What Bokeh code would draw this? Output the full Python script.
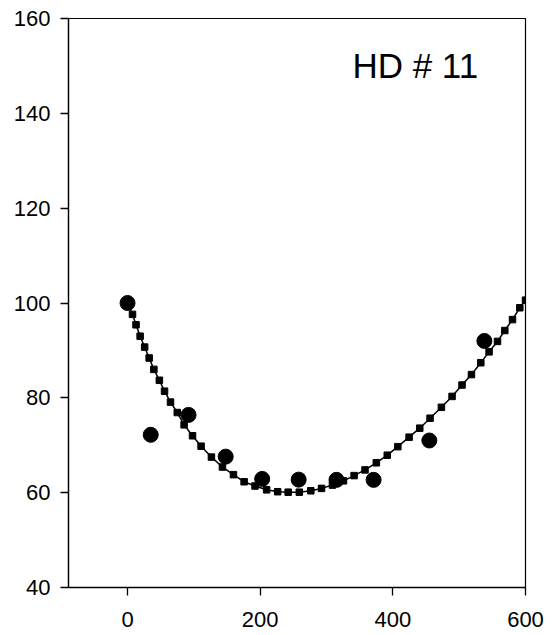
from bokeh.plotting import figure
from bokeh.models import Range1d, FixedTicker, Label, ColumnDataSource
from bokeh.embed import file_html
from bokeh.resources import INLINE

# Measured data (circles)
obs_x = [0, 35, 92, 148, 203, 258, 315, 371, 455, 538]
obs_y = [100.0, 72.2, 76.4, 67.6, 62.9, 62.75, 62.7, 62.7, 71.0, 92.0]

# Fitted curve (squares on line)
fit_x = [0, 7.5, 12.8, 19.0, 25.8, 32.6, 39.7, 48.0, 55.8, 64.8, 75.0, 85.3, 98.0,
         110.9, 126.5, 143.1, 159.7, 175.8, 192.2, 209.7, 226.3, 242.2, 259.0,
         276.3, 292.5, 309.0, 325.6, 341.6, 358.0, 375.1, 391.6, 407.5, 424.5,
         440.6, 456.1, 473.2, 489.3, 504.3, 518.5, 532.6, 545.1, 557.8, 568.8,
         580.4, 591.4, 600.0]
fit_y = [100.0, 97.6, 95.4, 93.0, 90.7, 88.4, 86.0, 83.7, 81.4, 79.1, 76.9, 74.3, 72.0,
         69.8, 67.5, 65.4, 63.8, 62.3, 61.4, 60.6, 60.2, 60.1, 60.1,
         60.4, 60.9, 61.6, 62.5, 63.6, 64.8, 66.3, 67.9, 69.7, 71.7,
         73.6, 75.7, 78.0, 80.3, 82.7, 84.9, 87.4, 89.7, 91.9, 94.2,
         96.5, 99.0, 100.6]

x_ticks = [0, 200, 400, 600]
y_ticks = [40, 60, 80, 100, 120, 140, 160]
title_text = "HD # 11"

FONT = "Liberation Sans"

p = figure(width=547, height=632, output_backend="svg", toolbar_location=None,
           x_range=Range1d(-89, 600), y_range=Range1d(40, 160),
           min_border_left=68, min_border_right=22, min_border_top=18,
           min_border_bottom=45)

p.grid.visible = False
p.outline_line_color = "black"
p.outline_line_width = 1.2
p.background_fill_color = "white"
p.border_fill_color = "white"

for ax, ticks in ((p.xaxis, x_ticks), (p.yaxis, y_ticks)):
    ax.ticker = FixedTicker(ticks=ticks)
    ax.minor_tick_line_color = None
    ax.major_tick_in = 0
    ax.major_tick_out = 8
    ax.major_tick_line_width = 1.3
    ax.axis_line_width = 1.3
    ax.axis_line_color = "black"
    ax.major_tick_line_color = "black"
    ax.major_label_text_font = FONT
    ax.major_label_text_font_size = "22px"
    ax.major_label_text_color = "black"

p.xaxis.major_label_standoff = 16
p.yaxis.major_label_standoff = 10

src_fit = ColumnDataSource(dict(x=fit_x, y=fit_y))
src_obs = ColumnDataSource(dict(x=obs_x, y=obs_y))

p.line("x", "y", source=src_fit, line_color="black", line_width=1.5)
p.scatter("x", "y", source=src_fit, marker="square", size=6.5,
          fill_color="black", line_color="black")
p.scatter("x", "y", source=src_obs, marker="circle", size=15,
          fill_color="black", line_color="black")

p.add_layout(Label(x=339, y=150.0, text=title_text, text_font=FONT,
                   text_font_size="35px", text_color="black",
                   text_baseline="alphabetic"))

open("out.html", "w").write(file_html(p, INLINE))
